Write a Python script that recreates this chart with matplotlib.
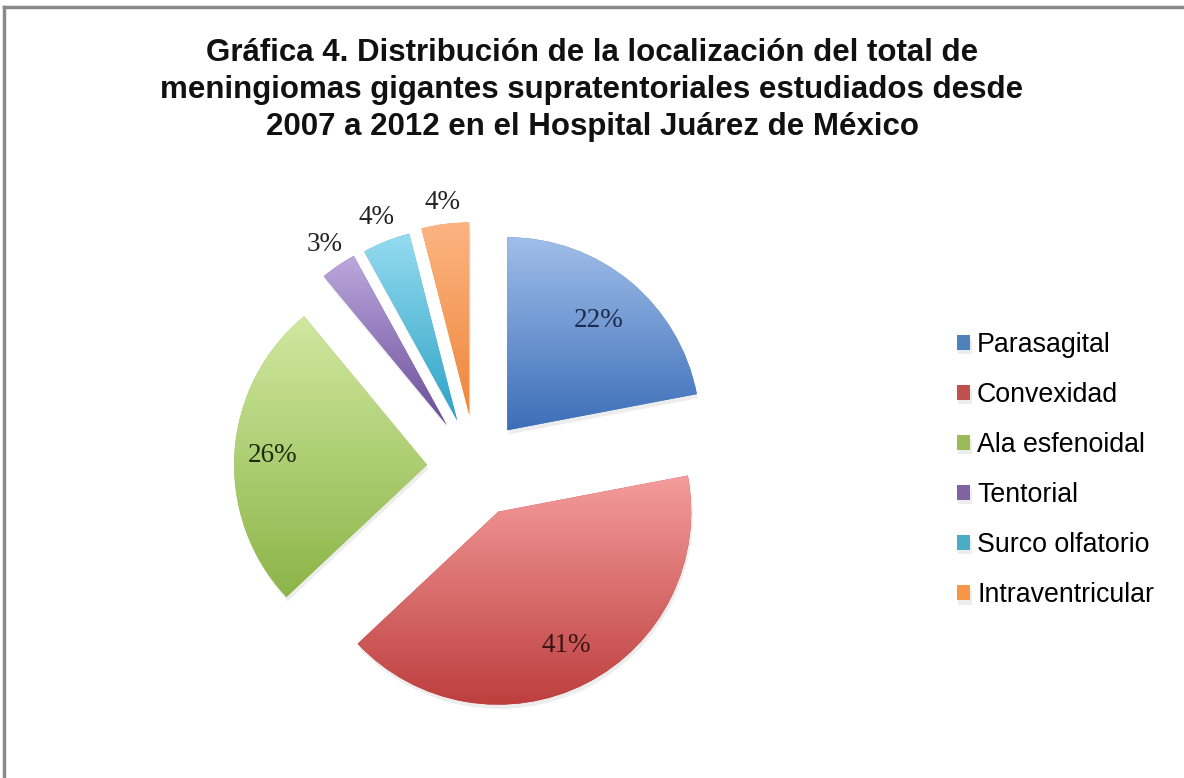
import numpy as np
import matplotlib
matplotlib.use('Agg')
import matplotlib.pyplot as plt
import matplotlib.patheffects as pe
from matplotlib.colors import LinearSegmentedColormap
from matplotlib.lines import Line2D

title = ('Gráfica 4. Distribución de la localización del total de\n'
         'meningiomas gigantes supratentoriales estudiados desde\n'
         '2007 a 2012 en el Hospital Juárez de México')

categories = ['Parasagital', 'Convexidad', 'Ala esfenoidal', 'Tentorial',
              'Surco olfatorio', 'Intraventricular']
percentages = [22, 41, 26, 3, 4, 4]

# base colour, light top, dark bottom for each slice
base_colors = ['#4f81bd', '#c0504d', '#9bbb59', '#8064a2', '#4bacc6', '#f79646']
top_colors = ['#a0bee9', '#f49d9c', '#d0e8a0', '#bca8de', '#95dbf0', '#fcb482']
bottom_colors = ['#3c6eb8', '#bd3f3e', '#8cb548', '#6a4d98', '#2ea2c6', '#ee873a']
label_colors = ['#1c2b4c', '#3b1414', '#1d2a10', '#222222', '#222222', '#222222']
label_dist = [0.74, 0.78, 0.80, 1.13, 1.13, 1.11]


def plot_pie():
    fig = plt.figure(figsize=(11.84, 7.78), dpi=100)
    ax = fig.add_axes([0, 0, 1, 1])

    center = (476, 778 - 468)
    radius = 193
    # explode is in data units here (1 unit = 1 px)
    wedges, _ = ax.pie(percentages, colors=base_colors, startangle=90,
                       counterclock=False, radius=radius, center=center,
                       explode=[49, 49, 49, 52, 51, 53],
                       wedgeprops=dict(linewidth=0))
    ax.set_xlim(0, 1184)
    ax.set_ylim(0, 778)
    ax.set_aspect('auto')
    ax.axis('off')

    grad = np.linspace(0, 1, 256).reshape(-1, 1)
    for w, top, bot, pct, tc, dist in zip(wedges, top_colors, bottom_colors,
                                          percentages, label_colors, label_dist):
        w.set_path_effects([pe.SimplePatchShadow(offset=(1, -3), alpha=0.1,
                                                 shadow_rgbFace='#555555'),
                            pe.Normal()])
        cx, cy = w.center
        r = w.r
        cmap = LinearSegmentedColormap.from_list('g', [bot, top])
        bb = w.get_path().get_extents(w.get_patch_transform())
        img = ax.imshow(grad, cmap=cmap, origin='lower', aspect='auto',
                        extent=(bb.x0, bb.x1, bb.y0, bb.y1), zorder=w.get_zorder() + 0.1,
                        interpolation='bilinear')
        img.set_clip_path(w)
        ang = np.deg2rad((w.theta1 + w.theta2) / 2)
        ax.text(cx + dist * r * np.cos(ang), cy + dist * r * np.sin(ang), f'{pct}%',
                ha='center', va='center', fontsize=19.5, family='Liberation Serif',
                color=tc, zorder=5)
    ax.set_xlim(0, 1184)
    ax.set_ylim(0, 778)

    fig.text(592 / 1184, 1 - 90 / 778, title, ha='center', va='center',
             fontsize=22.5, fontweight='bold', family='Liberation Sans',
             linespacing=1.3, color='#111111')

    ax.legend(wedges, categories, loc='center left',
              bbox_to_anchor=(957 / 1184, 1 - 470 / 778),
              frameon=False, prop={'family': 'Liberation Sans', 'size': 19.3},
              handlelength=0.5, handleheight=0.5, handletextpad=0.25,
              labelspacing=0.9, borderpad=0, borderaxespad=0)

    # gray frame along the top and left edges
    fig.add_artist(Line2D([4 / 1184, 4 / 1184], [0, 1 - 7 / 778],
                          transform=fig.transFigure, color='#8a8a8a', lw=2.5))
    fig.add_artist(Line2D([4 / 1184, 1], [1 - 7 / 778, 1 - 7 / 778],
                          transform=fig.transFigure, color='#8a8a8a', lw=2.5))

    fig.savefig('out.png', dpi=100, facecolor='white')


def main():
    plot_pie()


if __name__ == "__main__":
    main()
